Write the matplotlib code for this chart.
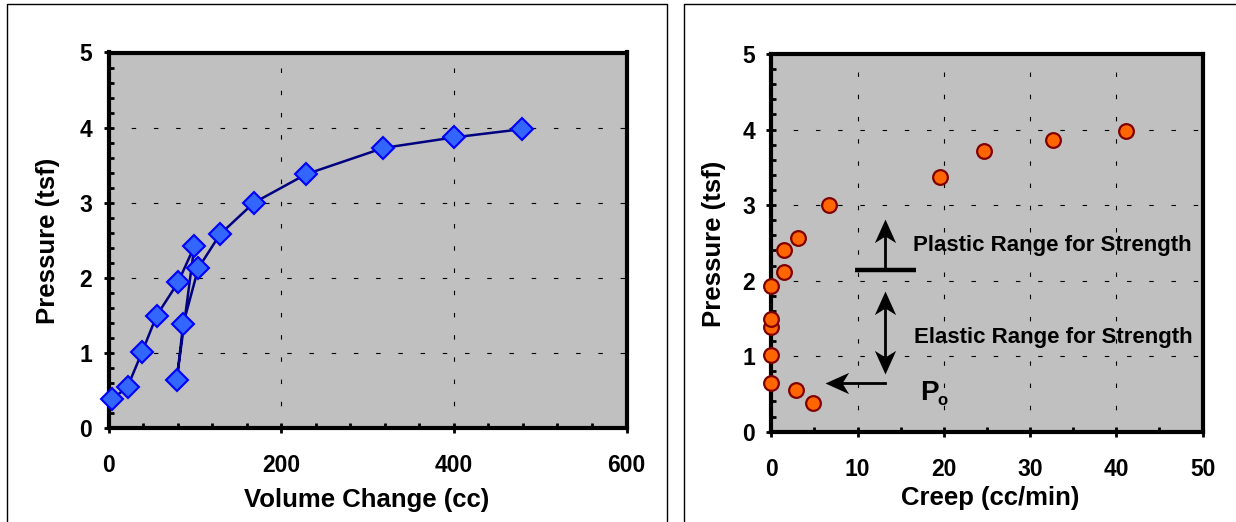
import matplotlib
matplotlib.use("Agg")
import matplotlib.pyplot as plt
from matplotlib.ticker import MultipleLocator
from matplotlib.lines import Line2D
from matplotlib.path import Path

plt.rcParams['font.family'] = ['Liberation Sans', 'DejaVu Sans']
plt.rcParams['font.weight'] = 'bold'

# ---- data ----
volume_change = [4.4, 21.9, 39, 55.7, 80.4, 99.3, 78.9, 86.5, 103.9, 129, 168.2, 228.7, 318.4, 399.8, 478.8]
pressure_vol = [0.39, 0.55, 1.02, 1.50, 1.94, 2.42, 0.64, 1.39, 2.13, 2.58, 3.00, 3.38, 3.73, 3.87, 3.98]

creep = [4.86, 2.81, 0.0, 0.0, 0.0, 0.0, 0.0, 1.49, 1.45, 3.15, 6.69, 19.55, 24.66, 32.67, 41.1]
pressure_creep = [0.38, 0.55, 0.64, 1.02, 1.38, 1.49, 1.93, 2.12, 2.41, 2.57, 3.00, 3.37, 3.72, 3.86, 3.98]

xlabel_left = "Volume Change (cc)"
xlabel_right = "Creep (cc/min)"
ylabel = "Pressure (tsf)"
plastic_text = "Plastic Range for Strength"
elastic_text = "Elastic Range for Strength"

W, H = 1236, 522
fig = plt.figure(figsize=(W / 100, H / 100), dpi=100)

def px_rect(x0, y0, x1, y1):
    return [x0 / W, 1 - y1 / H, (x1 - x0) / W, (y1 - y0) / H]

ax1 = fig.add_axes(px_rect(108.6, 52.5, 626.5, 428.3))
ax2 = fig.add_axes(px_rect(771.3, 54.0, 1202.6, 431.7))

# panel borders
def fig_line(xs, ys):
    fig.add_artist(Line2D([x / W for x in xs], [1 - y / H for y in ys],
                          color='black', lw=1.0, transform=fig.transFigure))

fig_line([6.5, 6.5, 666.5, 666.5], [H, 3.5, 3.5, H])
fig_line([683.5, 683.5, W], [H, 3.5, 3.5])

TICK_FS = 16.5
LABEL_FS = 18.5

def style_axes(ax, xmax, xmajor, xminor):
    ax.set_facecolor('#C0C0C0')
    ax.set_xlim(0, xmax)
    ax.set_ylim(0, 5)
    ax.xaxis.set_major_locator(MultipleLocator(xmajor))
    ax.xaxis.set_minor_locator(MultipleLocator(xminor))
    ax.yaxis.set_major_locator(MultipleLocator(1))
    ax.yaxis.set_minor_locator(MultipleLocator(0.2))
    for s in ax.spines.values():
        s.set_linewidth(3.0)
    ax.tick_params(which='major', direction='inout', length=7.5, width=2.0,
                   labelsize=TICK_FS)
    ax.tick_params(which='minor', direction='in', length=3.5, width=2.0)
    ax.tick_params(axis='x', which='major', pad=15)
    ax.tick_params(axis='y', which='major', pad=8)
    for lab in ax.get_xticklabels() + ax.get_yticklabels():
        lab.set_fontweight('bold')
    ax.grid(True, which='major', color='black', linestyle=(0, (4, 16)), lw=0.8)
    ax.set_axisbelow(True)

style_axes(ax1, 600, 200, 40)
style_axes(ax2, 50, 10, 5)

# left plot
ax1.plot(volume_change, pressure_vol, color='#000080', lw=1.8,
         marker='D', markersize=11, markerfacecolor='#3366FF',
         markeredgecolor='#0000FF', markeredgewidth=1.5, clip_on=False, zorder=5)
ax1.set_xlabel(xlabel_left, fontsize=LABEL_FS, fontweight='bold')
ax1.set_ylabel(ylabel, fontsize=LABEL_FS, fontweight='bold')
ax1.xaxis.set_label_coords(0.499, -0.158)
ax1.yaxis.set_label_coords(-0.094, 0.5)

# right plot
ax2.scatter(creep, pressure_creep, s=112, facecolor='#FF6600',
            edgecolor='#800000', linewidths=1.6, clip_on=False, zorder=5)
ax2.set_xlabel(xlabel_right, fontsize=LABEL_FS, fontweight='bold')
ax2.set_ylabel(ylabel, fontsize=LABEL_FS, fontweight='bold')
ax2.xaxis.set_label_coords(0.508, -0.144)
ax2.yaxis.set_label_coords(-0.104, 0.497)

# annotations on right plot
arrow_x = 13.16
bar_y = 2.14
up_tip = 2.82
dbl_top, dbl_bot = 1.86, 0.77
left_y, left_tip = 0.64, 6.26

head_up = Path([(0, 0), (-0.45, -1), (0, -0.72), (0.45, -1), (0, 0)],
               [Path.MOVETO, Path.LINETO, Path.LINETO, Path.LINETO, Path.CLOSEPOLY])
head_down = Path([(0, 0), (-0.45, 1), (0, 0.72), (0.45, 1), (0, 0)],
                 [Path.MOVETO, Path.LINETO, Path.LINETO, Path.LINETO, Path.CLOSEPOLY])
head_left = Path([(0, 0), (1, 0.45), (0.72, 0), (1, -0.45), (0, 0)],
                 [Path.MOVETO, Path.LINETO, Path.LINETO, Path.LINETO, Path.CLOSEPOLY])

hs = 34
# horizontal bar
ax2.plot([9.75, 16.8], [bar_y, bar_y], color='black', lw=3.2, solid_capstyle='butt')
# up arrow
ax2.plot([arrow_x, arrow_x], [bar_y, up_tip - 0.15], color='black', lw=2.0)
ax2.plot([arrow_x], [up_tip], marker=head_up, markersize=hs, color='black', mew=0)
# double arrow
ax2.plot([arrow_x, arrow_x], [dbl_top - 0.15, dbl_bot + 0.15], color='black', lw=2.0)
ax2.plot([arrow_x], [dbl_top], marker=head_up, markersize=hs, color='black', mew=0)
ax2.plot([arrow_x], [dbl_bot], marker=head_down, markersize=hs, color='black', mew=0)
# left arrow
ax2.plot([arrow_x, left_tip + 1.8], [left_y, left_y], color='black', lw=2.0)
ax2.plot([left_tip], [left_y], marker=head_left, markersize=hs, color='black', mew=0)

ax2.text(16.4, 2.47, plastic_text, fontsize=16, fontweight='bold', va='center', ha='left')
ax2.text(16.6, 1.25, elastic_text, fontsize=16, fontweight='bold', va='center', ha='left')
ax2.text(17.2, 0.42, "P", fontsize=20, fontweight='bold', va='baseline', ha='left')
ax2.text(19.2, 0.355, "o", fontsize=12, fontweight='bold', va='baseline', ha='left')

fig.savefig("out.png", dpi=100)
